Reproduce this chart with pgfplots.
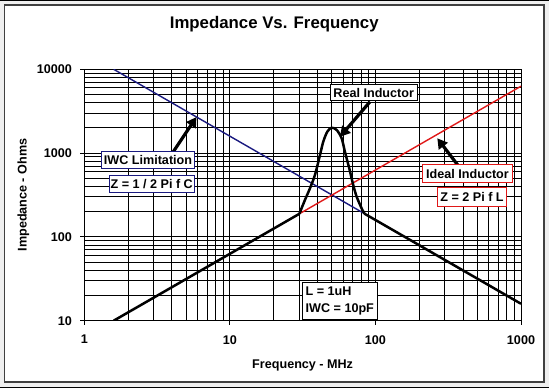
\documentclass[border=0pt]{standalone}
\usepackage{fontspec}
\setmainfont{Liberation Sans}
\usepackage{pgfplots}
\pgfplotsset{compat=1.18}
\usetikzlibrary{arrows.meta}
\definecolor{bgray}{HTML}{EFEFEF}
\definecolor{framec}{HTML}{404040}
\definecolor{navyline}{HTML}{1A1A80}
\definecolor{redline}{HTML}{E01818}
\newcommand{\lab}{\bfseries\fontsize{12.6bp}{14bp}\selectfont}
\begin{document}
\begin{tikzpicture}[x=1bp,y=1bp]
\fill[bgray] (0,0) rectangle (549,388);
\fill[black] (0,386.5) rectangle (549,388);
\fill[black] (0,0) rectangle (549,1.5);
\filldraw[fill=white, draw=framec, line width=1.5bp] (4.3,383) rectangle (544,6);
\begin{axis}[
 at={(84.3bp,67.3bp)}, anchor=south west,
 scale only axis, width=436.7bp, height=251.4bp,
 xmode=log, ymode=log,
 xmin=1, xmax=1000, ymin=10, ymax=10000,
 xtick={1,10,100,1000}, xticklabels={1,10,100,1000},
 ytick={10,100,1000,10000}, yticklabels={10,100,1000,10000},
 grid=both,
 major grid style={black, line width=0.9bp},
 minor grid style={black, line width=0.9bp},
 axis line style={black, line width=1bp},
 tick align=outside, tick pos=left,
 major tick length=4bp, minor tick length=0pt,
 tick style={black, line width=1bp},
 ticklabel style={font=\lab},
 xticklabel style={yshift=-7bp},
 yticklabel style={xshift=-5bp},
 /pgf/number format/assume math mode=true,
 title={Impedance Vs. Frequency},
 title style={font=\bfseries\fontsize{16.8bp}{18bp}\selectfont, at={([xshift=-28.4bp,yshift=39.5bp]rel axis cs:0.5,1)}, anchor=center},
 xlabel={Frequency - MHz},
 xlabel style={font=\lab, at={([yshift=-44.6bp]rel axis cs:0.5,0)}, anchor=center},
 ylabel={Impedance - Ohms},
 ylabel style={font=\lab, at={([xshift=-61bp]rel axis cs:0,0.5)}, anchor=center},
]
\addplot[navyline, line width=1.4bp] coordinates {(1.5915,10000) (84,189.5)};
\addplot[redline, line width=1.4bp] coordinates {(30,188.5) (1000,6283)};
\addplot[black, line width=2.5bp] coordinates {(1.5915,10) (30,188.5)};
\addplot[black, line width=2.5bp, smooth] coordinates {(30,188.5) (32.8,276) (35.5,380) (38.4,548) (41.6,948) (43.8,1367) (46.7,1800) (50.0,2009) (54.2,1887) (58.6,1502) (61.7,1039) (66.1,658) (70.4,416) (74.3,302) (80.4,219) (84,189.5)};
\addplot[black, line width=2.5bp] coordinates {(84,189.5) (1000,15.92)};
\end{axis}
\draw[line width=3.2bp, -{Triangle[width=11bp,length=10bp]}] (173.3,236.3) -- (196.5,271);
\draw[line width=3.2bp, -{Triangle[width=11bp,length=10bp]}] (370,286.3) -- (340,251.3);
\draw[line width=3.2bp, -{Triangle[width=11bp,length=10bp]}] (457.7,223) -- (437.3,249.7);
\tikzset{box/.style={fill=white, line width=1bp, inner sep=0pt, font=\lab}}
\node[box, draw=navyline, minimum width=92.6bp, minimum height=16.6bp] at (148,228) {IWC Limitation};
\node[box, draw=navyline, minimum width=85.3bp, minimum height=17.3bp] at (151.7,204.3) {Z = 1 / 2 Pi f C};
\node[box, draw=redline, minimum width=89.6bp, minimum height=17.7bp] at (467.5,214.2) {Ideal Inductor};
\node[box, draw=redline, minimum width=69.4bp, minimum height=19bp] at (472,190.8) {Z = 2 Pi f L};
\node[box, draw=black, minimum width=87.3bp, minimum height=16.4bp] at (373.7,295.5) {Real Inductor};
\node[box, draw=black, minimum width=75bp, minimum height=36.7bp, align=left, font=\bfseries\fontsize{12.6bp}{17.3bp}\selectfont] at (339.8,87.3) {L = 1uH\\IWC = 10pF};
\end{tikzpicture}
\end{document}
